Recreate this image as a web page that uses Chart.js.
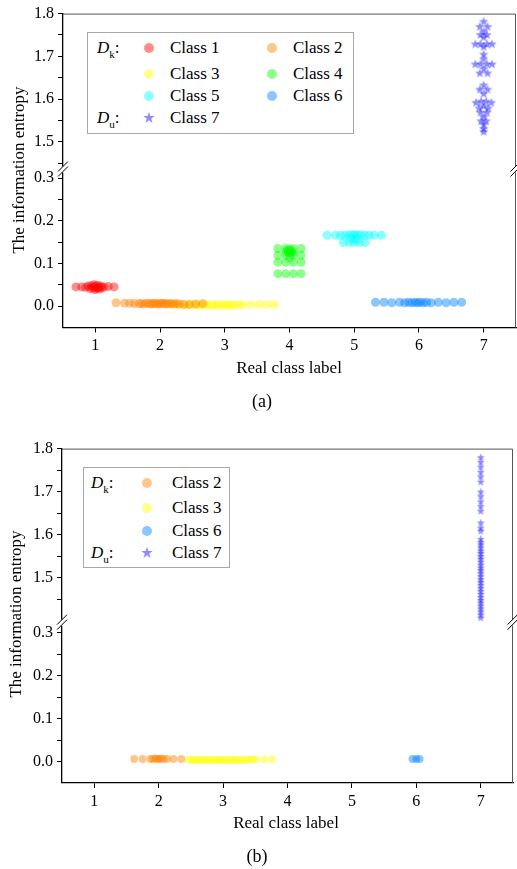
<!DOCTYPE html>
<html>
<head>
<meta charset="utf-8">
<script src="https://cdn.jsdelivr.net/npm/chart.js@4.4.1/dist/chart.umd.min.js"></script>
<style>
  html, body { margin: 0; padding: 0; background: #fff; }
  body { position: relative; width: 517px; height: 869px; overflow: hidden;
         font-family: "Liberation Serif", "Times New Roman", serif; color: #000; }
  canvas { position: absolute; left: 0; display: block; }
  .t { position: absolute; white-space: nowrap; font-size: 17px; line-height: 17px; }
  .c { transform: translate(-50%, -50%); }
  .rot { transform: translate(-50%, -50%) rotate(-90deg); }
  .sub { font-size: 11px; position: relative; top: 5px; }
  .box { position: absolute; border: 1px solid #a8a8a8; background: #fff; box-sizing: border-box; }
  .dot { position: absolute; width: 10px; height: 10px; border-radius: 50%; }
  .star { position: absolute; width: 12px; height: 12px; }
</style>
</head>
<body>
<canvas id="chartA" width="517" height="435" style="top:0"></canvas>
<canvas id="chartB" width="517" height="434" style="top:435px"></canvas>

<!-- panel (a) legend -->
<div class="box" style="left:87px;top:32px;width:267px;height:102px"></div>
<div class="t" style="left:97px;top:39px"><i>D</i><span class="sub">k</span>:</div>
<div class="t" style="left:97px;top:109px"><i>D</i><span class="sub">u</span>:</div>
<div class="dot" style="left:144px;top:43px;background:rgba(255,0,0,0.45)"></div>
<div class="t" style="left:170px;top:39px">Class 1</div>
<div class="dot" style="left:144px;top:69px;background:rgba(255,255,0,0.45)"></div>
<div class="t" style="left:170px;top:65px">Class 3</div>
<div class="dot" style="left:144px;top:91px;background:rgba(0,255,255,0.45)"></div>
<div class="t" style="left:170px;top:87px">Class 5</div>
<svg class="star" style="left:143px;top:112px" viewBox="-6 -6 12 12"><polygon points="0,-6 1.4,-1.9 5.7,-1.9 2.2,0.7 3.5,4.9 0,2.3 -3.5,4.9 -2.2,0.7 -5.7,-1.9 -1.4,-1.9" fill="rgba(0,0,255,0.45)"/></svg>
<div class="t" style="left:170px;top:109px">Class 7</div>
<div class="dot" style="left:267px;top:43px;background:rgba(255,128,0,0.45)"></div>
<div class="t" style="left:293px;top:39px">Class 2</div>
<div class="dot" style="left:267px;top:69px;background:rgba(0,255,0,0.45)"></div>
<div class="t" style="left:293px;top:65px">Class 4</div>
<div class="dot" style="left:267px;top:91px;background:rgba(0,128,255,0.45)"></div>
<div class="t" style="left:293px;top:87px">Class 6</div>

<div class="t rot" style="left:18px;top:170px">The information entropy</div>
<div class="t c" style="left:289px;top:367px">Real class label</div>
<div class="t c" style="left:262px;top:401px;font-size:18px;line-height:18px">(a)</div>

<!-- panel (b) legend -->
<div class="box" style="left:83px;top:467px;width:147px;height:101px"></div>
<div class="t" style="left:91px;top:474px"><i>D</i><span class="sub">k</span>:</div>
<div class="t" style="left:91px;top:544px"><i>D</i><span class="sub">u</span>:</div>
<div class="dot" style="left:142px;top:478px;background:rgba(255,128,0,0.45)"></div>
<div class="t" style="left:172px;top:474px">Class 2</div>
<div class="dot" style="left:142px;top:503px;background:rgba(255,255,0,0.45)"></div>
<div class="t" style="left:172px;top:499px">Class 3</div>
<div class="dot" style="left:142px;top:526px;background:rgba(0,128,255,0.45)"></div>
<div class="t" style="left:172px;top:522px">Class 6</div>
<svg class="star" style="left:141px;top:547px" viewBox="-6 -6 12 12"><polygon points="0,-6 1.4,-1.9 5.7,-1.9 2.2,0.7 3.5,4.9 0,2.3 -3.5,4.9 -2.2,0.7 -5.7,-1.9 -1.4,-1.9" fill="rgba(0,0,255,0.45)"/></svg>
<div class="t" style="left:172px;top:544px">Class 7</div>

<div class="t rot" style="left:15px;top:614px">The information entropy</div>
<div class="t c" style="left:286px;top:822px">Real class label</div>
<div class="t c" style="left:257px;top:856px;font-size:18px;line-height:18px">(b)</div>

<script>
// ---------- axis ticks ----------
const xTicks = [1, 2, 3, 4, 5, 6, 7];
const upperTicks = [1.45, 1.5, 1.55, 1.6, 1.65, 1.7, 1.75, 1.8];
const lowerTicks = [0, 0.05, 0.1, 0.15, 0.2, 0.25, 0.3];

// ---------- panel (a): all seven classes ----------
const a_class1X = [0.70, 0.79, 0.85, 0.89, 0.92, 0.94, 0.96, 0.98, 0.99, 1.00, 1.02, 1.03, 1.05, 1.06, 1.08, 1.10, 1.13, 1.20, 1.29];
const a_class1Y = [0.045, 0.045, 0.044, 0.047, 0.041, 0.048, 0.043, 0.050, 0.039, 0.046, 0.042, 0.049, 0.044, 0.040, 0.047, 0.043, 0.045, 0.046, 0.045];

const a_class2X = [1.32, 1.45, 1.53, 1.60, 1.67, 1.71, 1.75, 1.79, 1.83, 1.86, 1.89, 1.92, 1.95, 1.98, 2.01, 2.04, 2.07, 2.10, 2.13, 2.17, 2.21, 2.25, 2.30, 2.37, 2.45, 2.55, 2.66];
const a_class2Y = [0.008, 0.007, 0.007, 0.006, 0.006, 0.006, 0.005, 0.007, 0.006, 0.005, 0.006, 0.007, 0.006, 0.005, 0.006, 0.007, 0.006, 0.005, 0.006, 0.006, 0.005, 0.006, 0.005, 0.004, 0.004, 0.005, 0.006];

const a_class3X = [2.19, 2.27, 2.36, 2.43, 2.49, 2.55, 2.60, 2.65, 2.70, 2.75, 2.80, 2.85, 2.90, 2.95, 3.00, 3.05, 3.10, 3.15, 3.21, 3.28, 3.40, 3.53, 3.65, 3.77];
const a_class3Y = [0.004, 0.004, 0.003, 0.003, 0.004, 0.003, 0.003, 0.002, 0.003, 0.003, 0.002, 0.003, 0.003, 0.002, 0.003, 0.003, 0.002, 0.003, 0.003, 0.003, 0.004, 0.004, 0.004, 0.004];

const a_class4X = [3.82, 3.94, 4.06, 4.18, 3.82, 3.94, 4.06, 4.18, 3.82, 3.94, 4.06, 4.18, 3.82, 3.94, 4.06, 4.18, 3.97, 4.00, 4.03, 3.98, 4.02, 3.95, 4.05, 4.00];
const a_class4Y = [0.135, 0.135, 0.135, 0.135, 0.119, 0.119, 0.119, 0.119, 0.103, 0.103, 0.103, 0.103, 0.076, 0.076, 0.076, 0.076, 0.131, 0.133, 0.129, 0.125, 0.124, 0.127, 0.126, 0.113];

const a_class5X = [4.58, 4.71, 4.79, 4.86, 4.92, 4.97, 5.01, 5.05, 5.10, 5.16, 5.23, 5.31, 5.42, 4.83, 4.92, 5.00, 5.08, 5.17, 4.96, 5.03];
const a_class5Y = [0.166, 0.166, 0.166, 0.166, 0.167, 0.166, 0.168, 0.166, 0.167, 0.166, 0.166, 0.166, 0.166, 0.149, 0.149, 0.149, 0.149, 0.149, 0.158, 0.157];

const a_class6X = [5.33, 5.46, 5.58, 5.70, 5.78, 5.84, 5.89, 5.94, 5.98, 6.02, 6.07, 6.12, 6.19, 6.30, 6.42, 6.54, 6.66];
const a_class6Y = [0.009, 0.009, 0.008, 0.009, 0.008, 0.009, 0.008, 0.009, 0.008, 0.009, 0.008, 0.009, 0.008, 0.009, 0.008, 0.009, 0.009];

const a_class7X = [7.00, 6.94, 7.06, 7.00, 6.95, 7.05, 7.00, 6.87, 6.95, 7.05, 7.13, 7.00, 7.00, 7.00, 6.87, 6.95, 7.05, 7.13, 7.00, 6.94, 7.06, 7.00, 6.94, 7.06, 7.00, 6.88, 6.96, 7.04, 7.12, 6.93, 7.00, 7.07, 6.95, 7.05, 7.00, 6.96, 7.04, 7.00, 7.00, 7.00];
const a_class7Y = [1.781, 1.769, 1.769, 1.758, 1.750, 1.750, 1.744, 1.728, 1.728, 1.728, 1.728, 1.722, 1.704, 1.693, 1.681, 1.681, 1.681, 1.681, 1.670, 1.660, 1.660, 1.632, 1.622, 1.622, 1.612, 1.591, 1.594, 1.594, 1.591, 1.578, 1.583, 1.578, 1.568, 1.568, 1.558, 1.548, 1.548, 1.540, 1.530, 1.523];

// ---------- panel (b): classes 2, 3, 6 known and class 7 unknown ----------
const b_class2X = [1.62, 1.75, 1.87, 1.91, 1.95, 1.98, 2.01, 2.04, 2.08, 2.13, 2.23, 2.35];
const b_class2Y = [0.006, 0.006, 0.006, 0.006, 0.007, 0.006, 0.006, 0.007, 0.006, 0.006, 0.006, 0.006];

const b_class3X = [2.46, 2.51, 2.55, 2.59, 2.63, 2.67, 2.72, 2.76, 2.80, 2.84, 2.89, 2.93, 2.97, 3.01, 3.05, 3.10, 3.14, 3.18, 3.22, 3.27, 3.31, 3.36, 3.41, 3.46, 3.51, 3.64, 3.76];
const b_class3Y = [0.004, 0.004, 0.004, 0.003, 0.004, 0.004, 0.003, 0.004, 0.004, 0.003, 0.004, 0.004, 0.003, 0.004, 0.004, 0.003, 0.004, 0.004, 0.003, 0.004, 0.004, 0.004, 0.004, 0.005, 0.005, 0.005, 0.005];

const b_class6X = [5.94, 6.00, 6.05];
const b_class6Y = [0.006, 0.006, 0.006];

const b_class7X = [7, 7, 7, 7, 7, 7, 7, 7, 7, 7, 7, 7, 7, 7, 7, 7, 7, 7, 7, 7, 7, 7, 7, 7, 7, 7, 7, 7, 7, 7, 7, 7, 7, 7, 7, 7, 7, 7, 7, 7, 7, 7];
const b_class7Y = [1.779, 1.768, 1.757, 1.745, 1.734, 1.722, 1.699, 1.688, 1.676, 1.665, 1.654, 1.627, 1.615, 1.608, 1.589, 1.582, 1.576, 1.569, 1.562, 1.556, 1.549, 1.543, 1.536, 1.529, 1.522, 1.516, 1.509, 1.502, 1.495, 1.489, 1.482, 1.475, 1.468, 1.461, 1.454, 1.447, 1.441, 1.434, 1.427, 1.420, 1.413, 1.406];

// ---------- colours ----------
const classColors = {
  1: 'rgba(255,0,0,0.45)',
  2: 'rgba(255,128,0,0.45)',
  3: 'rgba(255,255,0,0.45)',
  4: 'rgba(0,255,0,0.45)',
  5: 'rgba(0,255,255,0.45)',
  6: 'rgba(0,128,255,0.45)',
  7: 'rgba(0,0,255,0.45)'
};

Chart.defaults.font.family = '"Liberation Serif", "Times New Roman", serif';
Chart.defaults.color = '#000';

// filled five-pointed star used as the marker of the unknown class
function makeStar(r, color) {
  const size = Math.ceil(2 * r + 2);
  const c = document.createElement('canvas');
  c.width = size; c.height = size;
  const g = c.getContext('2d');
  const cx = size / 2, cy = size / 2, ri = r * 0.42;
  g.beginPath();
  for (let i = 0; i < 10; i++) {
    const rad = i % 2 === 0 ? r : ri;
    const ang = -Math.PI / 2 + i * Math.PI / 5;
    const px = cx + rad * Math.cos(ang), py = cy + rad * Math.sin(ang);
    if (i === 0) g.moveTo(px, py); else g.lineTo(px, py);
  }
  g.closePath();
  g.fillStyle = color;
  g.fill();
  return c;
}

function zip(xs, ys) { return xs.map((x, i) => ({ x: x, y: ys[i] })); }

function tickLabel(v) {
  const t = v * 10;
  return Math.abs(t - Math.round(t)) < 1e-6 ? v.toFixed(1) : '';
}

// frame (top/right) plus the axis-break marks at the junction of the two y segments
const framePlugin = {
  id: 'frameBreaks',
  afterDraw(chart) {
    const ctx = chart.ctx, a = chart.chartArea;
    const yb = chart.scales.yUpper.bottom;
    ctx.save();
    ctx.strokeStyle = '#555';
    ctx.lineWidth = 1;
    ctx.beginPath();
    ctx.moveTo(a.left, a.top + 0.5);
    ctx.lineTo(a.right - 0.5, a.top + 0.5);
    ctx.lineTo(a.right - 0.5, a.bottom);
    ctx.stroke();
    [a.left, a.right - 0.5].forEach(x => {
      ctx.fillStyle = '#fff';
      ctx.fillRect(x - 2, yb - 3, 4, 6);
      ctx.strokeStyle = '#000';
      ctx.lineWidth = 1;
      ctx.beginPath();
      ctx.moveTo(x - 5, yb + 2); ctx.lineTo(x + 5, yb - 8);
      ctx.moveTo(x - 5, yb + 7); ctx.lineTo(x + 5, yb - 3);
      ctx.stroke();
    });
    ctx.restore();
  }
};

function circleSet(label, pts, color, r) {
  return { label, data: pts, yAxisID: 'yLower', backgroundColor: color, borderWidth: 0,
           pointStyle: 'circle', pointRadius: r, showLine: false, clip: false };
}
function starSet(label, pts, star) {
  return { label, data: pts, yAxisID: 'yUpper', backgroundColor: classColors[7], borderWidth: 0,
           pointStyle: star, pointRadius: 5, showLine: false, clip: false };
}

function yAxis(opts) {
  return {
    type: 'linear', position: 'left', stack: 'entropy',
    stackWeight: opts.max - opts.min, weight: opts.weight,
    min: opts.min, max: opts.max,
    afterBuildTicks: s => { s.ticks = opts.ticks.map(v => ({ value: v })); },
    afterFit: s => { s.width = opts.width; },
    ticks: { callback: v => tickLabel(v), font: { size: 16 }, color: '#000', padding: 4, autoSkip: false },
    grid: { display: true, drawOnChartArea: false, drawTicks: true, tickLength: 5, tickColor: '#000', tickWidth: 1 },
    border: { display: true, color: '#000', width: 1.3 }
  };
}

function makePanel(id, datasets, g) {
  return new Chart(document.getElementById(id), {
    type: 'scatter',
    data: { datasets },
    plugins: [framePlugin],
    options: {
      responsive: false,
      animation: false,
      events: [],
      layout: { autoPadding: false, padding: { left: 0, right: g.padRight, top: g.padTop, bottom: 0 } },
      plugins: { legend: { display: false }, tooltip: { enabled: false } },
      scales: {
        x: {
          type: 'linear', position: 'bottom', min: 0.5, max: 7.5,
          afterBuildTicks: s => { s.ticks = xTicks.map(v => ({ value: v })); },
          afterFit: s => { s.height = g.xHeight; },
          ticks: { callback: v => String(v), font: { size: 16 }, color: '#000', padding: 4, maxRotation: 0, autoSkip: false },
          grid: { display: true, drawOnChartArea: false, drawTicks: true, tickLength: 5, tickColor: '#000', tickWidth: 1 },
          border: { display: true, color: '#000', width: 1.3 }
        },
        yUpper: yAxis({ min: g.upperMin, max: 1.8, weight: 2, ticks: upperTicks, width: g.yWidth }),
        yLower: yAxis({ min: -0.05, max: g.lowerMax, weight: 1, ticks: lowerTicks, width: g.yWidth })
      }
    }
  });
}

const starA = makeStar(5, classColors[7]);
const starB = makeStar(4.2, classColors[7]);

makePanel('chartA', [
  circleSet('Class 1', zip(a_class1X, a_class1Y), classColors[1], 4.5),
  circleSet('Class 2', zip(a_class2X, a_class2Y), classColors[2], 4.5),
  circleSet('Class 3', zip(a_class3X, a_class3Y), classColors[3], 4.5),
  circleSet('Class 4', zip(a_class4X, a_class4Y), classColors[4], 4.5),
  circleSet('Class 5', zip(a_class5X, a_class5Y), classColors[5], 4.5),
  circleSet('Class 6', zip(a_class6X, a_class6Y), classColors[6], 4.5),
  starSet('Class 7', zip(a_class7X, a_class7Y), starA)
], { padTop: 11, padRight: 1, xHeight: 107.5, yWidth: 63, upperMin: 1.435, lowerMax: 0.32 });

makePanel('chartB', [
  circleSet('Class 2', zip(b_class2X, b_class2Y), classColors[2], 4),
  circleSet('Class 3', zip(b_class3X, b_class3Y), classColors[3], 4),
  circleSet('Class 6', zip(b_class6X, b_class6Y), classColors[6], 4),
  starSet('Class 7', zip(b_class7X, b_class7Y), starB)
], { padTop: 11, padRight: 4, xHeight: 86, yWidth: 62, upperMin: 1.395, lowerMax: 0.323 });
</script>
</body>
</html>
